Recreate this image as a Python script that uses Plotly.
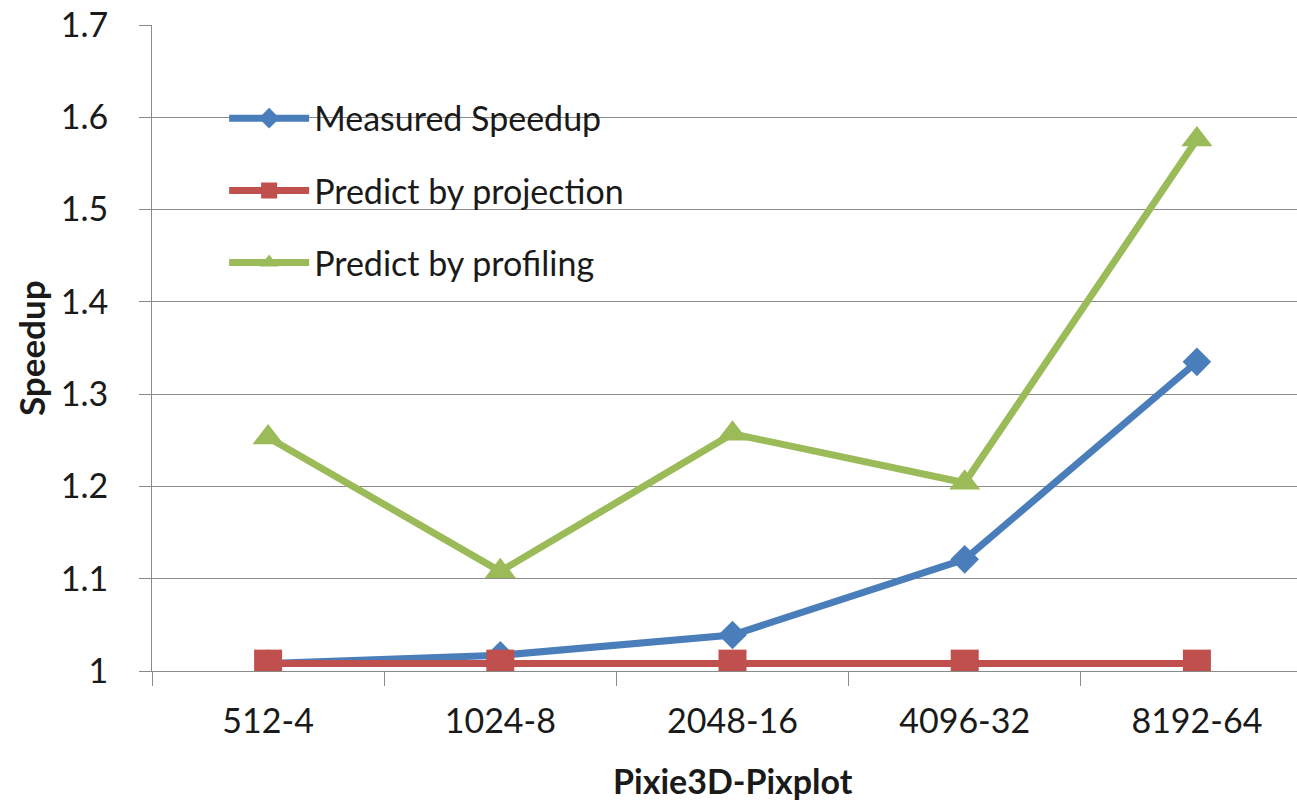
import plotly.graph_objects as go

# Problem sizes on the x axis
categories = ["512-4", "1024-8", "2048-16", "4096-32", "8192-64"]

# Speedup series
measured = [1.008, 1.017, 1.039, 1.121, 1.335]
projection = [1.008, 1.008, 1.008, 1.008, 1.008]
profiling = [1.253, 1.108, 1.257, 1.204, 1.576]

series = [
    ("Measured Speedup", measured, "#4A7EBB", "diamond", 22),
    ("Predict by projection", projection, "#C0504D", "square", 28),
    ("Predict by profiling", profiling, "#9BBB59", "triangle-up", 27),
]

FONT = "Lato, 'Open Sans', sans-serif"
GRID = "#8a8a8a"

fig = go.Figure()
for name, vals, color, symbol, size in series:
    fig.add_trace(go.Scatter(
        x=categories, y=vals, name=name, legendgroup=name,
        mode="lines+markers",
        line=dict(color=color, width=7),
        marker=dict(symbol=symbol, size=size, color=color,
                    line=dict(width=0)),
    ))

W, H = 1297, 803
L, R, T, B = 152, 0, 25, 132
px_per_cat = 232.2
x_end = -0.5 + (W - L - R) / px_per_cat
plot_w, plot_h = W - L - R, H - T - B

fig.update_layout(
    width=W, height=H,
    margin=dict(l=L, r=R, t=T, b=B),
    paper_bgcolor="white", plot_bgcolor="white",
    font=dict(family=FONT, size=34, color="#1a1a1a"),
    showlegend=True,
    legend=dict(
        x=0.063, y=0.90, xanchor="left", yanchor="top",
        bgcolor="rgba(0,0,0,0)", borderwidth=0,
        itemwidth=80, tracegroupgap=25,
        font=dict(family=FONT, size=34, color="#1a1a1a"),
    ),
    xaxis=dict(
        type="category", range=[-0.5, x_end],
        showgrid=False, showline=True, linecolor=GRID, linewidth=1,
        ticks="outside", tickson="boundaries", ticklen=14,
        tickcolor=GRID, tickwidth=1, ticklabelstandoff=20,
        tickfont=dict(family=FONT, size=34, color="#1a1a1a"),
    ),
    yaxis=dict(
        range=[1, 1.7], dtick=0.1, tick0=1,
        showgrid=True, gridcolor=GRID, gridwidth=1,
        showline=True, linecolor=GRID, linewidth=1,
        ticks="outside", ticklen=12, tickcolor=GRID, tickwidth=1,
        ticklabelstandoff=24,
        tickfont=dict(family=FONT, size=34, color="#1a1a1a"),
        zeroline=False,
    ),
    annotations=[
        dict(text="<b>Pixie3D-Pixplot</b>", xref="paper", yref="paper",
             x=(733 - L) / plot_w, y=(H - B - 780) / plot_h,
             xanchor="center", yanchor="middle", showarrow=False,
             font=dict(family=FONT, size=34, color="#1a1a1a")),
        dict(text="<b>Speedup</b>", xref="paper", yref="paper",
             x=(31 - L) / plot_w, y=(H - B - 348) / plot_h,
             xanchor="center", yanchor="middle", showarrow=False,
             textangle=-90,
             font=dict(family=FONT, size=35, color="#1a1a1a")),
    ],
)

fig.write_html("out.html")
